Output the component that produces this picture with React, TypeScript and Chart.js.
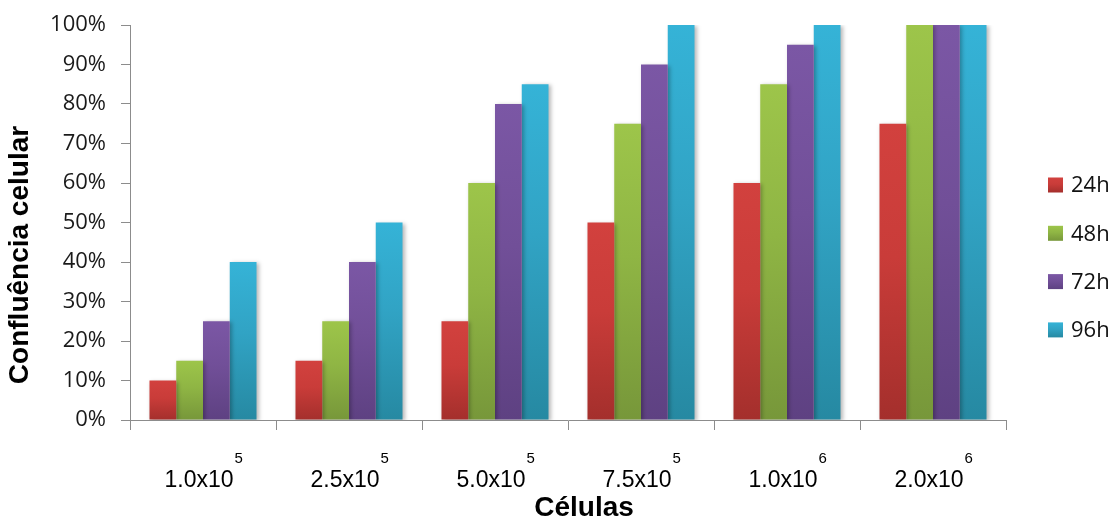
import React, { useEffect, useRef } from "react";
import { Chart, registerables } from "chart.js";

Chart.register(...registerables);

const categories = ["1.0x10", "2.5x10", "5.0x10", "7.5x10", "1.0x10", "2.0x10"];
const exponents = ["5", "5", "5", "5", "6", "6"];
const seriesNames = ["24h", "48h", "72h", "96h"];
const values24h = [10, 15, 25, 50, 60, 75];
const values48h = [15, 25, 60, 75, 85, 100];
const values72h = [25, 40, 80, 90, 95, 100];
const values96h = [40, 50, 85, 100, 100, 100];
const yTicks = [0, 10, 20, 30, 40, 50, 60, 70, 80, 90, 100];

const palette = [
  { top: "#D2413E", mid: "#C93C39", bottom: "#A42F2C" },
  { top: "#9DC54A", mid: "#8FB544", bottom: "#77973A" },
  { top: "#7B57A5", mid: "#714F98", bottom: "#5E4182" },
  { top: "#35B3D7", mid: "#31A3C4", bottom: "#2689A2" },
];

function gradientFor(ctx: CanvasRenderingContext2D, y0: number, y1: number, i: number) {
  const g = ctx.createLinearGradient(0, y0, 0, y1);
  g.addColorStop(0, palette[i].top);
  g.addColorStop(0.45, palette[i].mid);
  g.addColorStop(1, palette[i].bottom);
  return g;
}

const decorPlugin = {
  id: "decor",
  beforeDatasetsDraw(chart: any) {
    const ctx = chart.ctx;
    ctx.save();
    ctx.shadowColor = "rgba(0,0,0,0.28)";
    ctx.shadowBlur = 4;
    ctx.shadowOffsetX = 2;
    ctx.shadowOffsetY = 1;
  },
  afterDatasetsDraw(chart: any) {
    chart.ctx.restore();
  },
  afterDraw(chart: any) {
    const ctx: CanvasRenderingContext2D = chart.ctx;
    const xScale = chart.scales.x;
    const area = chart.chartArea;
    ctx.save();
    ctx.fillStyle = "#000";
    ctx.textBaseline = "alphabetic";
    categories.forEach((label, i) => {
      const cx = xScale.getPixelForValue(i) - 4;
      ctx.font = "23px 'Liberation Sans', Arial, sans-serif";
      const w = ctx.measureText(label).width;
      ctx.textAlign = "left";
      ctx.fillText(label, cx - w / 2, area.bottom + 67);
      ctx.font = "15px 'Liberation Sans', Arial, sans-serif";
      ctx.fillText(exponents[i], cx + w / 2 + 1, area.bottom + 43);
    });
    ctx.font = "bold 28px 'Liberation Sans', Arial, sans-serif";
    ctx.textAlign = "center";
    ctx.textBaseline = "middle";
    ctx.fillText("Células", 584, 508);
    ctx.save();
    ctx.translate(20, 255);
    ctx.rotate(-Math.PI / 2);
    ctx.fillText("Confluência celular", 0, 0);
    ctx.restore();
    ctx.font = "22px 'Open Sans', sans-serif";
    ctx.textAlign = "left";
    ctx.textBaseline = "middle";
    chart.data.datasets.forEach((ds: any, i: number) => {
      const y = 185 + i * 48.3;
      ctx.fillStyle = gradientFor(ctx, y - 7.5, y + 7.5, i);
      ctx.fillRect(1048, y - 7.5, 15, 15);
      ctx.fillStyle = "#111";
      ctx.fillText(ds.label, 1071, y + 1);
    });
    ctx.restore();
  },
};

export default function App() {
  const ref = useRef<HTMLCanvasElement | null>(null);
  useEffect(() => {
    document.body.style.margin = "0";
    const canvas = ref.current;
    if (!canvas) return;
    const seriesValues = [values24h, values48h, values72h, values96h];
    const chart = new Chart(canvas, {
      type: "bar",
      data: {
        labels: categories.map((c, i) => c + exponents[i]),
        datasets: seriesNames.map((name, i) => ({
          label: name,
          data: seriesValues[i],
          backgroundColor: (c: any) => {
            const ch = c.chart;
            if (!ch.chartArea || c.type !== "data") return palette[i].mid;
            const ys = ch.scales.y;
            const v = c.raw as number;
            const y0 = ys.getPixelForValue(v);
            const y1 = ys.getPixelForValue(0);
            return gradientFor(ch.ctx, y0, y1 + 0.01, i);
          },
          borderWidth: 0,
          categoryPercentage: 0.733,
          barPercentage: 1,
        })),
      },
      options: {
        animation: false,
        responsive: false,
        devicePixelRatio: 1,
        layout: { padding: { left: 0, right: 107, top: 25, bottom: 0 } },
        plugins: {
          legend: { display: false },
          tooltip: { enabled: false },
        },
        scales: {
          x: {
            afterFit: (s: any) => {
              s.height = 100;
              s.paddingLeft = 0;
              s.paddingRight = 0;
            },
            grid: {
              display: true,
              drawOnChartArea: false,
              drawTicks: true,
              tickLength: 10,
              offset: true,
              color: "#8C8C8C",
            },
            border: { display: true, color: "#8C8C8C", width: 1 },
            ticks: { display: false },
          },
          y: {
            min: 0,
            max: 100,
            afterFit: (s: any) => {
              s.width = 130;
              s.paddingTop = 0;
              s.paddingBottom = 0;
            },
            afterBuildTicks: (s: any) => {
              s.ticks = yTicks.map((v) => ({ value: v }));
            },
            grid: {
              display: true,
              drawOnChartArea: false,
              drawTicks: true,
              tickLength: 9,
              color: "#8C8C8C",
            },
            border: { display: true, color: "#8C8C8C", width: 1 },
            ticks: {
              padding: 15,
              color: "#1a1a1a",
              font: { family: "'Open Sans', sans-serif", size: 22 },
              callback: (v: any) => v + "%",
            },
          },
        },
      },
      plugins: [decorPlugin],
    });
    return () => chart.destroy();
  }, []);
  return (
    <div style={{ width: 1113, height: 520 }}>
      <canvas ref={ref} width={1113} height={520} style={{ display: "block" }} />
    </div>
  );
}
